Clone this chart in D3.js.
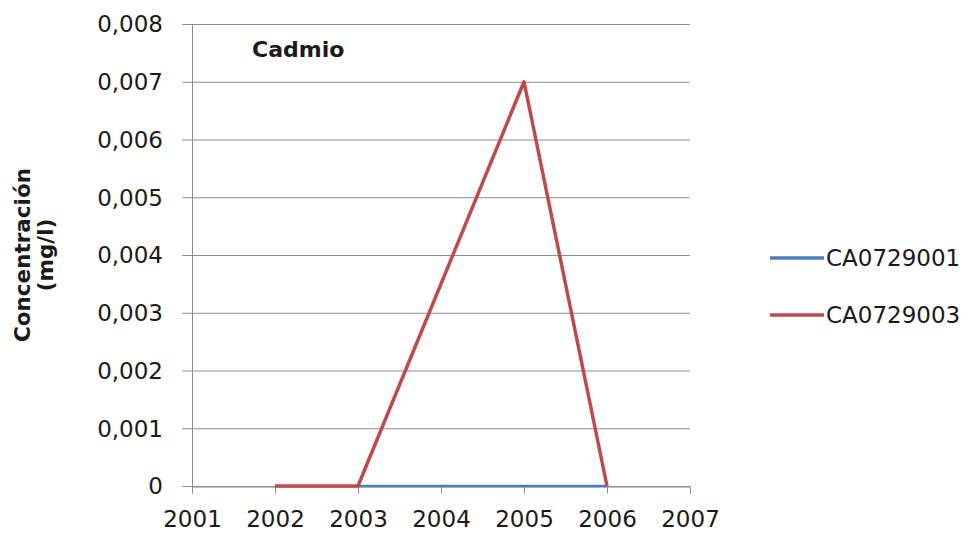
<!DOCTYPE html>
<html>
<head>
<meta charset="utf-8">
<script src="https://cdn.jsdelivr.net/npm/d3@7"></script>
<style>
  body { margin: 0; background: #fff; }
  text { font-family: "DejaVu Sans", sans-serif; fill: #1a1a1a; }
</style>
</head>
<body>
<svg id="chart" width="970" height="544"></svg>
<script>
// datos
var years = [2001, 2002, 2003, 2004, 2005, 2006, 2007];
var yTicks = [0, 0.001, 0.002, 0.003, 0.004, 0.005, 0.006, 0.007, 0.008];
var seriesNames = ["CA0729001", "CA0729003"];
var seriesColors = ["#4a7ebb", "#be4b48"];
var ca0729001 = [[2003, 0], [2004, 0], [2005, 0], [2006, 0]];
var ca0729003 = [[2002, 0], [2003, 0], [2005, 0.007], [2006, 0]];

var svg = d3.select("#chart");
var x = d3.scaleLinear().domain([2001, 2007]).range([192, 690]);
var y = d3.scaleLinear().domain([0, 0.008]).range([486, 24]);

var fmt = function(d){ return d === 0 ? "0" : d3.format(".3f")(d).replace(".", ","); };

// rejilla horizontal
svg.append("g").selectAll("line").data(yTicks).enter().append("line")
  .attr("x1", 182).attr("x2", 690)
  .attr("y1", function(d){ return y(d) + 0.5; })
  .attr("y2", function(d){ return y(d) + 0.5; })
  .attr("stroke", "#8c8c8c").attr("stroke-width", 1);

// eje vertical
svg.append("line").attr("x1", 192.5).attr("x2", 192.5).attr("y1", 24).attr("y2", 486)
  .attr("stroke", "#8c8c8c");

// etiquetas eje y
svg.append("g").selectAll("text").data(yTicks).enter().append("text")
  .attr("x", 163).attr("y", function(d){ return y(d); })
  .attr("dy", "0.36em").attr("text-anchor", "end")
  .style("font-size", "23px").text(fmt);

// eje x
var xAxis = d3.axisBottom(x).tickValues(years).tickSize(7).tickFormat(d3.format("d"));
var gx = svg.append("g").attr("transform", "translate(0,486.5)").call(xAxis);
gx.select(".domain").attr("stroke", "#8c8c8c");
gx.selectAll(".tick line").attr("stroke", "#8c8c8c");
gx.selectAll(".tick text").attr("y", 40).attr("dy", "0")
  .style("font-size", "23px").style("font-family", "'DejaVu Sans', sans-serif").attr("fill", "#1a1a1a");

// series
var line = d3.line().x(function(d){ return x(d[0]); }).y(function(d){ return y(d[1]); });
[ca0729001, ca0729003].forEach(function(s, i){
  svg.append("path").datum(s).attr("d", line)
    .attr("fill", "none").attr("stroke", seriesColors[i])
    .attr("stroke-width", i === 1 ? 3.5 : 2.5).attr("stroke-linejoin", "round");
});

// título
svg.append("text").attr("x", 252).attr("y", 57).style("font-size", "22px")
  .style("font-weight", "bold").text("Cadmio");

// título eje y
var yt = svg.append("text").attr("transform", "translate(30,255) rotate(-90)")
  .attr("text-anchor", "middle").style("font-size", "21.5px").style("font-weight", "bold");
yt.append("tspan").attr("x", 0).attr("dy", 0).text("Concentración");
yt.append("tspan").attr("x", 0).attr("dy", "1.08em").text("(mg/l)");

// leyenda
var lg = svg.append("g").selectAll("g").data(seriesNames).enter().append("g")
  .attr("transform", function(d, i){ return "translate(770," + (258 + i * 57) + ")"; });
lg.append("line").attr("x1", 0).attr("x2", 54)
  .attr("stroke", function(d, i){ return seriesColors[i]; }).attr("stroke-width", 3.5);
lg.append("text").attr("x", 56).attr("dy", "0.36em").style("font-size", "23px").text(function(d){ return d; });
</script>
</body>
</html>
